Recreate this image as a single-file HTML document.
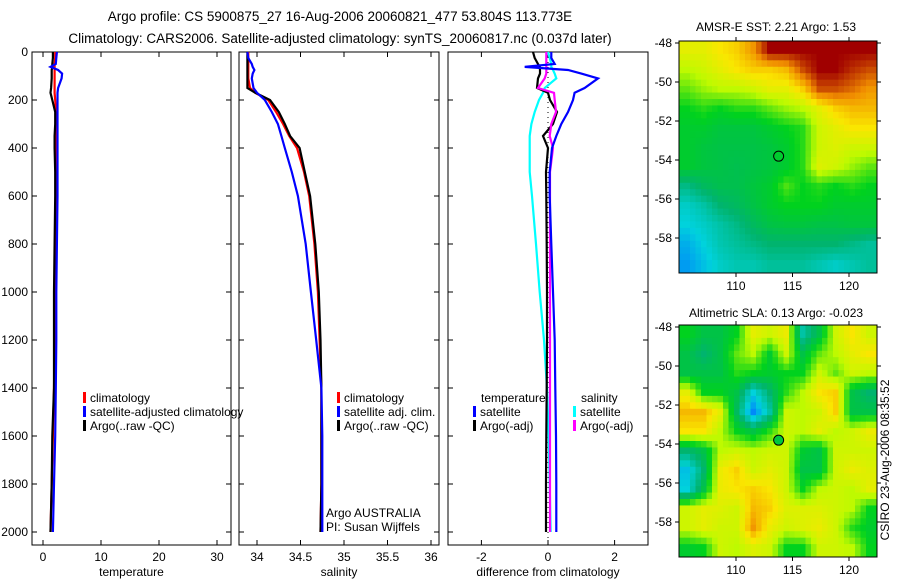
<!DOCTYPE html>
<html><head><meta charset="utf-8"><style>
body{margin:0;background:#fff;}
svg{display:block;font-family:"Liberation Sans",sans-serif;}
</style></head><body>
<svg id="fig" width="900" height="580" viewBox="0 0 900 580" xmlns="http://www.w3.org/2000/svg">
<text x="340" y="21" font-size="13.5" text-anchor="middle">Argo profile: CS 5900875_27 16-Aug-2006 20060821_477 53.804S 113.773E</text>
<text x="340" y="43" font-size="13.5" text-anchor="middle">Climatology: CARS2006. Satellite-adjusted climatology: synTS_20060817.nc (0.037d later)</text>
<text x="776" y="31" font-size="12" text-anchor="middle">AMSR-E SST: 2.21 Argo: 1.53</text>
<text x="776" y="317" font-size="12" text-anchor="middle">Altimetric SLA: 0.13 Argo: -0.023</text>
<text transform="translate(889,460) rotate(-90)" font-size="12" text-anchor="middle">CSIRO 23-Aug-2006 08:35:52</text>
<g id="plots"></g>
</svg>
<script>
// ---------- data ----------
const depthTicks=[0,200,400,600,800,1000,1200,1400,1600,1800,2000];
const tempTicks=[0,10,20,30];
const salTicks=[34,34.5,35,35.5,36];
const salTickLabels=["34","34.5","35","35.5","36"];
const diffTicks=[-2,0,2];
const lonTicks=[110,115,120];
const latTicks=[-48,-50,-52,-54,-56,-58];

const depths=[0,25,50,62,75,90,110,150,170,200,250,300,350,400,500,600,800,1000,1200,1400,1600,1800,2000];
const tempClim=[2.1,2.1,2.0,2.0,2.0,2.0,2.0,2.0,2.0,2.1,2.2,2.2,2.3,2.3,2.4,2.3,2.2,2.1,2.0,1.9,1.7,1.5,1.3];
const tempSat =[2.4,2.3,2.2,1.3,2.6,3.3,3.2,2.6,2.5,2.5,2.5,2.5,2.5,2.5,2.5,2.5,2.4,2.3,2.3,2.2,2.1,1.9,1.7];
const tempArgo=[1.7,1.7,1.6,1.6,1.5,1.5,1.5,1.4,1.3,1.6,2.1,2.1,2.0,2.0,2.1,2.1,2.0,1.9,1.9,1.9,1.6,1.5,1.3];
const salClim=[33.9,33.9,33.9,33.9,33.9,33.9,33.9,33.92,33.98,34.13,34.22,34.3,34.37,34.46,34.54,34.6,34.66,34.7,34.72,34.74,34.74,34.74,34.73];
const salSat =[33.89,33.9,33.94,33.95,33.97,33.95,33.94,33.96,34.0,34.09,34.17,34.24,34.28,34.32,34.4,34.47,34.56,34.62,34.68,34.74,34.75,34.75,34.75];
const salArgo=[33.89,33.89,33.89,33.89,33.89,33.89,33.89,33.89,33.98,34.15,34.25,34.32,34.38,34.49,34.55,34.61,34.67,34.71,34.73,34.74,34.74,34.74,34.73];
const dTempSat=[0.1,0.1,0.2,-0.7,0.6,1.0,1.5,1.1,0.8,0.75,0.6,0.4,0.25,0.12,0.05,0.05,0.1,0.15,0.2,0.22,0.24,0.25,0.25];
const dSalSat=[0,0.05,0.1,0.1,0.15,0.2,0.25,-0.1,-0.15,-0.27,-0.4,-0.5,-0.55,-0.55,-0.55,-0.48,-0.36,-0.25,-0.12,-0.03,0.02,0.05,0.08];
const dTempArgo=[-0.45,-0.4,-0.3,-0.25,-0.24,-0.24,-0.3,-0.33,0.0,0.06,0.27,0.15,-0.15,0.0,-0.06,-0.05,-0.04,-0.03,-0.03,-0.04,-0.05,-0.06,-0.06];
const dSalArgo=[-0.05,-0.05,-0.05,-0.05,-0.05,-0.05,-0.1,-0.3,0.18,0.2,0.24,0.1,0.05,0.15,0.06,0.06,0.06,0.06,0.06,0.06,0.06,0.06,0.06];

const sstGrid=[
[.75,.75,.78,.8,.85,.95,.95,.95,.95,.95,.95,.95],
[.7,.72,.75,.78,.8,.8,.82,.9,.95,.95,.92,.9],
[.65,.68,.7,.7,.72,.75,.75,.8,.9,.9,.88,.85],
[.6,.62,.6,.62,.62,.65,.68,.7,.75,.8,.82,.82],
[.58,.58,.56,.56,.56,.58,.6,.62,.72,.75,.78,.78],
[.58,.56,.55,.55,.55,.56,.58,.62,.72,.74,.72,.72],
[.58,.56,.55,.54,.55,.56,.58,.62,.74,.72,.68,.65],
[.48,.52,.54,.54,.56,.58,.64,.6,.62,.6,.62,.6],
[.42,.45,.5,.52,.55,.58,.6,.6,.6,.58,.58,.58],
[.4,.42,.45,.48,.52,.55,.56,.56,.55,.55,.56,.56],
[.36,.4,.44,.46,.48,.5,.5,.5,.5,.5,.48,.46],
[.34,.38,.42,.44,.44,.46,.46,.46,.44,.42,.44,.46]];
const slaGrid=[
[.6,.55,.55,.6,.75,.72,.76,.45,.55,.72,.78,.72],
[.55,.5,.55,.65,.7,.58,.72,.55,.65,.7,.75,.78],
[.55,.55,.55,.62,.6,.58,.6,.6,.72,.65,.72,.7],
[.75,.6,.6,.55,.4,.5,.62,.7,.78,.8,.55,.5],
[.82,.82,.75,.52,.32,.45,.72,.7,.72,.8,.55,.55],
[.78,.78,.7,.6,.55,.62,.72,.7,.75,.7,.72,.76],
[.5,.55,.7,.72,.7,.72,.72,.58,.55,.72,.72,.72],
[.38,.5,.76,.8,.72,.75,.72,.55,.55,.72,.76,.74],
[.4,.55,.76,.78,.8,.78,.72,.6,.7,.72,.7,.75],
[.72,.75,.74,.72,.82,.8,.74,.74,.74,.72,.7,.6],
[.72,.75,.72,.72,.85,.76,.72,.74,.76,.72,.62,.58],
[.58,.6,.72,.7,.74,.72,.6,.6,.72,.72,.7,.6]];
const argoLon=113.773, argoLat=-53.804;
const sstDotColor=0.58, slaDotColor=0.56;

// ---------- helpers ----------
const NS="http://www.w3.org/2000/svg";
const root=document.getElementById('plots');
function mk(tag,attrs,parent){const e=document.createElementNS(NS,tag);for(const k in attrs)e.setAttribute(k,attrs[k]);(parent||root).appendChild(e);return e;}
const cmapStops=[[0,[0,0,180]],[0.3,[0,120,255]],[0.4,[0,210,220]],[0.5,[0,180,110]],[0.6,[0,210,30]],[0.7,[190,250,0]],[0.78,[250,230,0]],[0.86,[240,140,0]],[0.95,[160,0,0]],[1,[130,0,0]]];
function jet(v){v=Math.max(0,Math.min(1,v));
 for(let i=1;i<cmapStops.length;i++){if(v<=cmapStops[i][0]){const a=cmapStops[i-1],b=cmapStops[i];const t=(v-a[0])/(b[0]-a[0]);
  const c=a[1].map((x,k)=>Math.round(x+(b[1][k]-x)*t));return `rgb(${c[0]},${c[1]},${c[2]})`;}}
 return 'rgb(130,0,0)';}
const yTop=52,yBot=545;
const yD=d=>yTop+d*0.24;

function profilePanel(name,x0,x1,xs,xticks,xlabels,xtitle,showY){
 const g=mk('g',{});
 
 
 const fr=mk('rect',{x:x0,y:yTop,width:x1-x0,height:yBot-yTop,fill:'none',stroke:'#000','stroke-width':1},g);
 
 
 depthTicks.forEach(d=>{const y=yD(d);
  mk('line',{x1:x0,x2:x0+5,y1:y,y2:y,stroke:'#000'},g);
  mk('line',{x1:x1-5,x2:x1,y1:y,y2:y,stroke:'#000'},g);
  if(showY){const t=mk('text',{x:x0-4,y:y+4,'font-size':12,'text-anchor':'end'},g);t.textContent=d;
   
   }
 });
 xticks.forEach((v,i)=>{const x=xs(v);
  mk('line',{x1:x,x2:x,y1:yTop,y2:yTop+5,stroke:'#000'},g);
  mk('line',{x1:x,x2:x,y1:yBot-5,y2:yBot,stroke:'#000'},g);
  const t=mk('text',{x:x,y:yBot+16,'font-size':12,'text-anchor':'middle'},g);t.textContent=xlabels[i];
  
  
 });
 const tt=mk('text',{x:(x0+x1)/2,y:yBot+31,'font-size':12,'text-anchor':'middle'},g);tt.textContent=xtitle;
 
 
 return g;}
function series(g,xs,vals,color,nm,w){
 const pts=vals.map((v,i)=>xs(v).toFixed(1)+','+yD(depths[i]).toFixed(1)).join(' ');
 const p=mk('polyline',{points:pts,fill:'none',stroke:color,'stroke-width':w||2.2},g);
 
 }
function legend(g,x,y,items){items.forEach((it,i)=>{
 const yy=y+i*14;
 mk('rect',{x:x,y:yy-10,width:3,height:11,fill:it[1]},g);
 const t=mk('text',{x:x+7,y:yy,'font-size':12},g);t.textContent=it[0];
 
 });}

// temperature panel
const xT=v=>43+v*5.8;
let g1=profilePanel('temperature-panel',32,231,xT,tempTicks,tempTicks.map(String),'temperature',true);
series(g1,xT,tempClim,'#f00','temp-climatology-line');
series(g1,xT,tempArgo,'#000','temp-argo-line');
series(g1,xT,tempSat,'#00f','temp-satellite-line');
legend(g1,83,402,[['climatology','#f00'],['satellite-adjusted climatology','#00f'],['Argo(..raw -QC)','#000']]);

// salinity panel
const xS=v=>257+(v-34)*87;
let g2=profilePanel('salinity-panel',239,439,xS,salTicks,salTickLabels,'salinity',false);
series(g2,xS,salClim,'#f00','sal-climatology-line');
series(g2,xS,salArgo,'#000','sal-argo-line');
series(g2,xS,salSat,'#00f','sal-satellite-line');
legend(g2,337,402,[['climatology','#f00'],['satellite adj. clim.','#00f'],['Argo(..raw -QC)','#000']]);
[['Argo AUSTRALIA',517],['PI: Susan Wijffels',531]].forEach(a=>{const t=mk('text',{x:326,y:a[1],'font-size':12},g2);t.textContent=a[0];
 
 });

// difference panel
const xDf=v=>548+v*33.3;
let g3=profilePanel('difference-panel',448,648,xDf,diffTicks,diffTicks.map(String),'difference from climatology',false);
mk('line',{x1:xDf(0),x2:xDf(0),y1:yTop,y2:yBot,stroke:'#000','stroke-dasharray':'1,4'},g3);
series(g3,xDf,dSalSat,'#0ff','diff-sal-satellite-line');
series(g3,xDf,dTempArgo,'#000','diff-temp-argo-line');
series(g3,xDf,dSalArgo,'#f0f','diff-sal-argo-line');
series(g3,xDf,dTempSat,'#00f','diff-temp-satellite-line');
let lt=mk('text',{x:481,y:402,'font-size':12},g3);lt.textContent='temperature';


let ls=mk('text',{x:581,y:402,'font-size':12},g3);ls.textContent='salinity';


legend(g3,473,416,[['satellite','#00f'],['Argo(-adj)','#000']]);
legend(g3,573,416,[['satellite','#0ff'],['Argo(-adj)','#f0f']]);

// maps
function mapPanel(name,y0,grid,dotC){
 const x0=679,x1=877,y1=y0+232;
 const lonX=l=>736+(l-110)*11.3;
 const latY=la=>y0+2+(-48-la)*19.5;
 const g=mk('g',{});
 
 
 const cid='clip'+name;
 const cp=mk('clipPath',{id:cid},g);mk('rect',{x:x0,y:y0,width:x1-x0,height:y1-y0},cp);
 const cells=mk('g',{'clip-path':`url(#${cid})`},g);
 const rows=grid.length,cols=grid[0].length;
 const cw=(x1-x0)/cols,ch=(y1-y0)/rows;
 grid.forEach((row,r)=>row.forEach((v,c)=>{
  const sub=3;
  for(let a=0;a<sub;a++)for(let b=0;b<sub;b++){
   const fr=(r+(a+0.5)/sub-0.5),fc=(c+(b+0.5)/sub-0.5);
   const r0=Math.max(0,Math.min(rows-1,Math.floor(fr))),r1=Math.min(rows-1,r0+1);
   const c0=Math.max(0,Math.min(cols-1,Math.floor(fc))),c1=Math.min(cols-1,c0+1);
   const tr=Math.max(0,Math.min(1,fr-r0)),tc=Math.max(0,Math.min(1,fc-c0));
   const val=(grid[r0][c0]*(1-tc)+grid[r0][c1]*tc)*(1-tr)+(grid[r1][c0]*(1-tc)+grid[r1][c1]*tc)*tr;
   const cell=mk('rect',{x:(x0+c*cw+b*cw/sub).toFixed(2),y:(y0+r*ch+a*ch/sub).toFixed(2),width:(cw/sub+0.6).toFixed(2),height:(ch/sub+0.6).toFixed(2),fill:jet(val)},cells);
   
   
  }}));
 const fr=mk('rect',{x:x0,y:y0,width:x1-x0,height:y1-y0,fill:'none',stroke:'#000'},g);
 
 
 lonTicks.forEach(l=>{const x=lonX(l);
  mk('line',{x1:x,x2:x,y1:y0-4,y2:y0,stroke:'#000'},g);
  mk('line',{x1:x,x2:x,y1:y1,y2:y1+4,stroke:'#000'},g);
  const t=mk('text',{x:x,y:y1+17,'font-size':12,'text-anchor':'middle'},g);t.textContent=l;
  
  });
 latTicks.forEach(la=>{const y=latY(la);
  mk('line',{x1:x0-4,x2:x0,y1:y,y2:y,stroke:'#000'},g);
  mk('line',{x1:x1,x2:x1+4,y1:y,y2:y,stroke:'#000'},g);
  const t=mk('text',{x:x0-7,y:y+4,'font-size':12,'text-anchor':'end'},g);t.textContent=la;
  
  });
 const dot=mk('circle',{cx:lonX(argoLon),cy:latY(argoLat),r:5,fill:jet(dotC),stroke:'#000','stroke-width':1},g);
 
 
}
mapPanel('sst-map',41,sstGrid,sstDotColor);
mapPanel('sla-map',325,slaGrid,slaDotColor);
</script>
</body></html>
